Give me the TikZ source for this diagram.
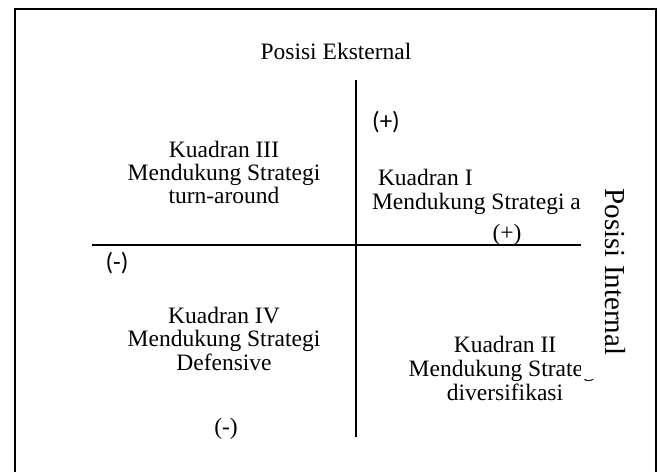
\documentclass[tikz,border=0pt]{standalone}
\usepackage{fontspec}
\setmainfont{Liberation Serif}
\newfontfamily\signfont{Carlito}
\begin{document}
\begin{tikzpicture}[x=1pt,y=1pt,
  every node/.style={inner sep=0pt, outer sep=0pt},
  txt/.style={anchor=base, font=\fontsize{23.5}{24}\selectfont},
  sign/.style={anchor=base, font=\signfont\fontsize{25}{26}\selectfont},
  frame/.style={line width=1.6pt},
  axis/.style={line width=1.1pt}]
\useasboundingbox (0,0) rectangle (660,-472);
% outer frame (open at the bottom)
\draw[frame] (15,-472) -- (15,-9) -- (656,-9) -- (656,-472);
% axes
\coordinate (vtop) at (356,-80);
\coordinate (vbot) at (356,-437);
\coordinate (hl) at (92,-245);
\coordinate (hr) at (582,-245);
\draw[axis] (vtop) -- (vbot);
\draw[axis] (hl) -- (hr);
% top title
\node[txt] (ext) at (336,-59) {Posisi Eksternal};
% signs
\node[sign] (plusS) at (386,-129) {(+)};
\node[sign] (minusS) at (117,-270) {(-)};
\node[txt] (plusR) at (507,-240) {(+)};
\node[txt] (minusB) at (226,-434) {(-)};
% Kuadran III
\node[txt] (q3a) at (224,-157) {Kuadran III};
\node[txt] (q3b) at (224,-180.5) {Mendukung Strategi};
\node[txt] (q3c) at (224,-203) {turn-around};
% Kuadran IV
\node[txt] (q4a) at (224,-323) {Kuadran IV};
\node[txt] (q4b) at (224,-346.5) {Mendukung Strategi};
\node[txt] (q4c) at (224,-370) {Defensive};
% Kuadran I
\node[txt, anchor=base west] (q1a) at (378,-185) {Kuadran I};
\node[txt, anchor=base west] (q1b) at (372,-209) {Mendukung Strategi agresif};
% Kuadran II
\node[txt] (q2a) at (505,-352) {Kuadran II};
\node[txt] (q2b) at (505,-376) {Mendukung Strategi};
\node[txt] (q2c) at (505,-400) {diversifikasi};
% box of the rotated label, hiding what runs under it
\fill[white] (581,-150) rectangle (652,-379);
\node[font=\fontsize{29}{30}\selectfont, rotate=-90] (int) at (615,-272) {Posisi Internal};
\end{tikzpicture}
\end{document}
